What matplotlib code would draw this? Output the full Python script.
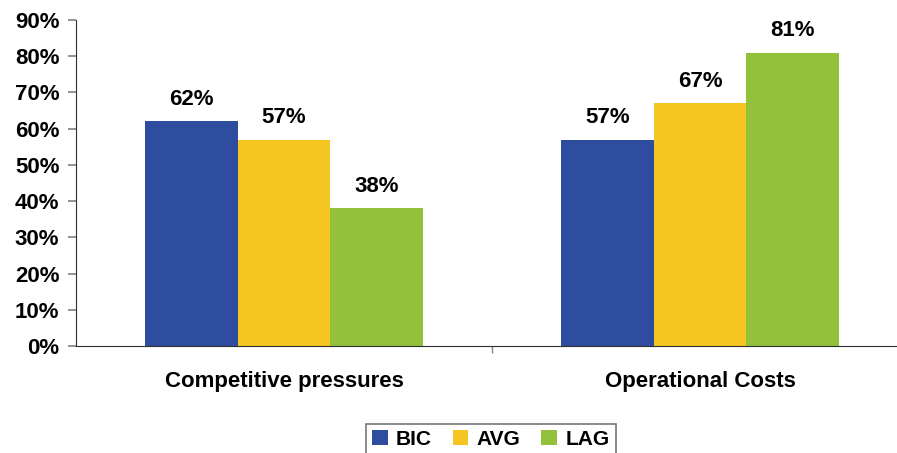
import matplotlib
import matplotlib.pyplot as plt
import numpy as np

matplotlib.use("Agg")
plt.rcParams["font.family"] = ["Liberation Sans", "DejaVu Sans"]
plt.rcParams["font.weight"] = "bold"

categories = ["Competitive pressures", "Operational Costs"]
series = ["BIC", "AVG", "LAG"]
values = {
    "BIC": [62, 57],
    "AVG": [57, 67],
    "LAG": [38, 81],
}
colors = {"BIC": "#2E4D9F", "AVG": "#F5C621", "LAG": "#93C13B"}

fs = 16

fig = plt.figure(figsize=(8.97, 4.53), dpi=100)
ax = fig.add_axes([76 / 897, 1 - 346 / 453, 832 / 897, 326 / 453])

x = np.arange(len(categories))
width = 0.222
for i, name in enumerate(series):
    bars = ax.bar(x + (i - 1) * width, values[name], width, color=colors[name], label=name)
    for b, v in zip(bars, values[name]):
        ax.annotate(f"{v}%", (b.get_x() + b.get_width() / 2, v), xytext=(0, 8),
                    textcoords="offset points", ha="center", va="bottom",
                    fontsize=fs, fontweight="bold")

ax.set_xlim(-0.5, 1.5)
ax.set_ylim(0, 90)
ax.set_yticks(range(0, 91, 10))
ax.set_yticklabels([f"{t}%" for t in range(0, 91, 10)], fontsize=fs, fontweight="bold")
ax.tick_params(axis="y", length=6, width=1.2, color="#808080", pad=6)

ax.set_xticks(x)
ax.set_xticklabels(categories, fontsize=fs, fontweight="bold")
ax.tick_params(axis="x", which="major", length=0, pad=18)
ax.set_xticks([0.5], minor=True)
ax.tick_params(axis="x", which="minor", length=5, width=1, color="#808080")

for s in ["top", "right"]:
    ax.spines[s].set_visible(False)
ax.spines["left"].set_color("#303030")
ax.spines["bottom"].set_color("#303030")

leg = fig.legend(loc="upper center", bbox_to_anchor=(0.547, 0.088), ncol=3,
                 fancybox=False, edgecolor="#555555", fontsize=15,
                 handlelength=0.75, handleheight=0.75, handletextpad=0.4,
                 columnspacing=1.0, borderpad=0.3)
leg.get_frame().set_linewidth(1.2)

fig.savefig("out.png", dpi=100)
